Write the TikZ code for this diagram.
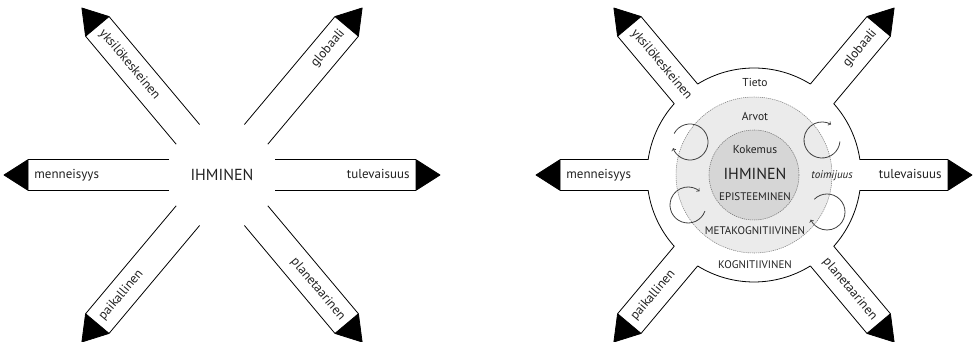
\documentclass[tikz,border=0pt]{standalone}
\usepackage{fontspec}
\setmainfont{PT Sans}
\usetikzlibrary{shapes,positioning,calc}
\definecolor{midGray}{gray}{0.92}
\definecolor{coreGray}{gray}{0.84}
\definecolor{inkGray}{gray}{0.13}

\begin{document}
\begin{tikzpicture}
  [x=1pt,y=1pt,thick,
   bandN/.style={draw=black},
   headN/.style={fill=black,draw=black,line join=round},
   armN/.style={font=\fontsize{13}{15}\selectfont,text=inkGray,inner sep=0pt,
                text height=1.6ex,text depth=.3ex},
   ringN/.style={font=\fontsize{11.5}{13}\selectfont,text=inkGray},
   layerN/.style={font=\fontsize{11}{13}\selectfont,text=inkGray},
   coreN/.style={font=\fontsize{16}{19}\selectfont,text=inkGray},
   midC/.style={fill=midGray,draw=black!50,line width=0.55pt,dash pattern=on 1.2pt off 0.9pt},
   coreC/.style={fill=coreGray,draw=black!55,line width=0.55pt,dash pattern=on 1.2pt off 0.9pt},
   cycA/.style={draw=black!75,line width=0.8pt,->},
  ]
  \useasboundingbox (0,0) rectangle (977,342);

  % right figure: layers
  \filldraw[midC] (754,167) circle[radius=78];
  \filldraw[coreC] (754,167) circle[radius=45];
  \foreach \s/\e in {8.2/41.8,58.2/121.8,138.2/171.8,188.2/221.8,238.2/301.8,318.2/351.8}
    \draw (754,167) ++(\s:107) arc[start angle=\s,end angle=\e,radius=107];

  % arrows of both figures
  \foreach \cx/\r/\f in {222/53/L,754/105.9/R}{
    \foreach \a/\rt/\an/\txt in {0/0/east/tulevaisuus,50/50/east/globaali,
        130/-50/west/yksilökeskeinen,180/0/west/menneisyys,
        230/50/west/paikallinen,310/-50/east/planetaarinen}{
      \begin{scope}[shift={(\cx,167)},rotate=\a]
        \draw[bandN] (\r,15.3) -- (194,15.3);
        \draw[bandN] (\r,-15.3) -- (194,-15.3);
        \filldraw[headN] (194,15.3) -- (218,0) -- (194,-15.3) -- cycle;
        \node[armN,rotate=\rt,anchor=\an] (\f\a) at (188,0) {\txt};
      \end{scope}
    }
  }

  \node[coreN] (hubL) at (222,167) {IHMINEN};

  \node[ringN] (tieto) at (755,259) {Tieto};
  \node[ringN] (arvot) at (755,226) {Arvot};
  \node[ringN] (kokemus) at (755,192) {Kokemus};
  \node[coreN] (hubR) at (755,168) {IHMINEN};
  \node[layerN] (episteem) at (755,145) {EPISTEEMINEN};
  \node[layerN] (metakog) at (755,111) {METAKOGNITIIVINEN};
  \node[layerN] (kognit) at (755,77) {KOGNITIIVINEN};
  \node[ringN,font=\fontsize{11}{13}\selectfont\itshape] (toimij) at (832,166) {toimijuus};

  % cycles
  \draw[cycA] (690,200) ++(152:18) arc[start angle=152,end angle=-160,radius=18];
  \draw[cycA] (822,202) ++(-5:18) arc[start angle=-5,end angle=-300,radius=18];
  \draw[cycA] (688,137) ++(-20:18) arc[start angle=-20,end angle=-310,radius=18];
  \draw[cycA] (827,130) ++(135:18) arc[start angle=135,end angle=-155,radius=18];
\end{tikzpicture}
\end{document}
